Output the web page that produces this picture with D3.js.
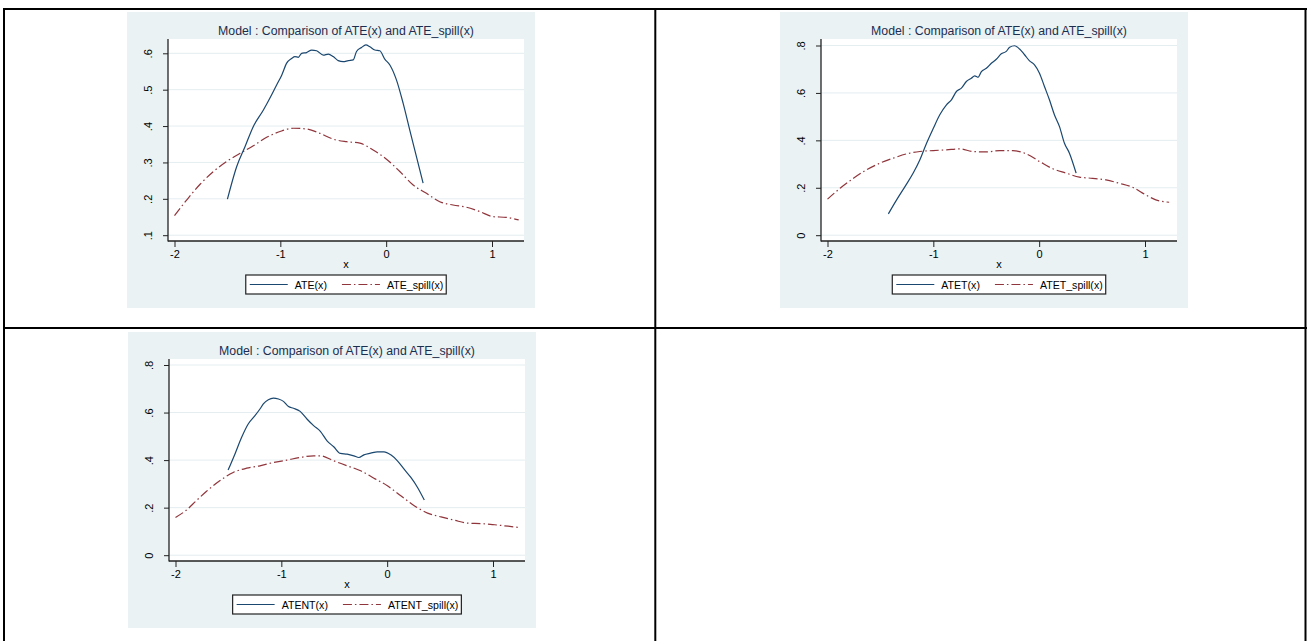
<!DOCTYPE html>
<html>
<head>
<meta charset="utf-8">
<title>Model : Comparison of ATE(x) and ATE_spill(x)</title>
<script src="https://cdnjs.cloudflare.com/ajax/libs/d3/7.8.5/d3.min.js"></script>
<style>
  body { margin: 0; background: #fff; }
  svg text { font-family: "Liberation Sans", Arial, sans-serif; }
</style>
</head>
<body>
<svg id="page" width="1307" height="641"></svg>
<script>
// ---- data ----
var titleText = "Model : Comparison of ATE(x) and ATE_spill(x)";
var xTicks = [-2, -1, 0, 1];
var xTickLabels = ["-2", "-1", "0", "1"];
var yTicksA = [0.1, 0.2, 0.3, 0.4, 0.5, 0.6];
var yTickLabelsA = [".1", ".2", ".3", ".4", ".5", ".6"];
var yTicksB = [0, 0.2, 0.4, 0.6, 0.8];
var yTickLabelsB = ["0", ".2", ".4", ".6", ".8"];

// panel 1
var ateX = [-1.50, -1.412, -1.333, -1.255, -1.160, -1.082, -1.035, -0.987, -0.940, -0.893, -0.862, -0.830, -0.799, -0.752, -0.704, -0.657, -0.594, -0.547, -0.500, -0.453, -0.406, -0.358, -0.311, -0.280, -0.233, -0.192, -0.154, -0.107, -0.060, -0.013, 0.035, 0.097, 0.160, 0.223, 0.286, 0.349];
var ateY = [0.199, 0.289, 0.344, 0.399, 0.444, 0.486, 0.513, 0.540, 0.573, 0.586, 0.591, 0.589, 0.600, 0.602, 0.609, 0.607, 0.595, 0.598, 0.591, 0.580, 0.577, 0.580, 0.582, 0.605, 0.616, 0.623, 0.618, 0.609, 0.607, 0.584, 0.568, 0.527, 0.463, 0.389, 0.316, 0.243];
var ateSpillX = [-2.0, -1.884, -1.758, -1.632, -1.506, -1.380, -1.255, -1.129, -1.003, -0.877, -0.752, -0.626, -0.500, -0.374, -0.248, -0.123, 0.003, 0.129, 0.255, 0.381, 0.506, 0.632, 0.758, 0.884, 1.009, 1.135, 1.252];
var ateSpillY = [0.154, 0.197, 0.240, 0.275, 0.303, 0.325, 0.346, 0.369, 0.385, 0.394, 0.392, 0.380, 0.364, 0.357, 0.353, 0.334, 0.309, 0.275, 0.238, 0.215, 0.192, 0.183, 0.177, 0.165, 0.151, 0.149, 0.142];

// panel 2
var atetX = [-1.425, -1.347, -1.268, -1.190, -1.127, -1.064, -1.000, -0.939, -0.876, -0.829, -0.782, -0.735, -0.688, -0.641, -0.609, -0.578, -0.546, -0.499, -0.452, -0.405, -0.358, -0.311, -0.279, -0.232, -0.185, -0.138, -0.091, -0.044, 0.003, 0.050, 0.097, 0.144, 0.192, 0.239, 0.286, 0.349];
var atetY = [0.090, 0.149, 0.205, 0.262, 0.318, 0.388, 0.451, 0.508, 0.550, 0.571, 0.606, 0.620, 0.648, 0.662, 0.672, 0.666, 0.690, 0.704, 0.725, 0.742, 0.765, 0.775, 0.793, 0.799, 0.785, 0.761, 0.735, 0.718, 0.683, 0.627, 0.571, 0.508, 0.458, 0.388, 0.346, 0.262];
var atetSpillX = [-2.0, -1.881, -1.755, -1.630, -1.504, -1.378, -1.253, -1.127, -1.002, -0.876, -0.750, -0.625, -0.499, -0.374, -0.248, -0.122, 0.003, 0.129, 0.254, 0.380, 0.505, 0.631, 0.757, 0.882, 1.008, 1.102, 1.228];
var atetSpillY = [0.152, 0.198, 0.240, 0.276, 0.304, 0.325, 0.343, 0.353, 0.357, 0.360, 0.364, 0.353, 0.351, 0.357, 0.357, 0.343, 0.311, 0.280, 0.262, 0.245, 0.240, 0.233, 0.219, 0.202, 0.170, 0.149, 0.139];

// panel 3
var atentX = [-1.503, -1.439, -1.376, -1.313, -1.249, -1.202, -1.170, -1.123, -1.075, -1.027, -0.980, -0.932, -0.885, -0.822, -0.758, -0.695, -0.631, -0.568, -0.505, -0.441, -0.378, -0.315, -0.267, -0.220, -0.156, -0.093, -0.030, 0.034, 0.097, 0.160, 0.224, 0.287, 0.351];
var atentY = [0.358, 0.425, 0.495, 0.552, 0.587, 0.615, 0.636, 0.654, 0.661, 0.657, 0.647, 0.625, 0.618, 0.605, 0.573, 0.545, 0.521, 0.481, 0.456, 0.428, 0.425, 0.418, 0.411, 0.422, 0.429, 0.435, 0.435, 0.422, 0.397, 0.362, 0.327, 0.285, 0.232];
var atentSpillX = [-2.0, -1.899, -1.804, -1.709, -1.582, -1.455, -1.328, -1.202, -1.075, -0.948, -0.822, -0.695, -0.631, -0.505, -0.378, -0.251, -0.125, 0.002, 0.129, 0.256, 0.382, 0.509, 0.636, 0.762, 0.889, 1.016, 1.142, 1.237];
var atentSpillY = [0.159, 0.189, 0.229, 0.268, 0.313, 0.348, 0.366, 0.376, 0.390, 0.400, 0.411, 0.418, 0.418, 0.397, 0.376, 0.355, 0.324, 0.292, 0.250, 0.208, 0.177, 0.161, 0.147, 0.135, 0.133, 0.128, 0.122, 0.117];

var navy = "#1a476f", maroon = "#90353b";
var svg = d3.select("#page");

// table borders (cells of the page holding the graphs)
var border = svg.append("g").attr("stroke", "#000").attr("stroke-width", 2);
border.append("line").attr("x1", 3).attr("x2", 1307).attr("y1", 9).attr("y2", 9);
border.append("line").attr("x1", 3).attr("x2", 1307).attr("y1", 328).attr("y2", 328);
border.append("line").attr("x1", 4).attr("x2", 4).attr("y1", 8).attr("y2", 641);
border.append("line").attr("x1", 655.3).attr("x2", 655.3).attr("y1", 8).attr("y2", 641);
border.append("line").attr("x1", 1305.5).attr("x2", 1305.5).attr("y1", 8).attr("y2", 641);

function zip(xs, ys) { return xs.map(function(v, i) { return [v, ys[i]]; }); }

function drawPanel(o) {
  var g = svg.append("g").attr("transform", "translate(" + o.left + "," + o.top + ")");
  var plotL = 41, plotR = 397, plotT = 27, plotB = 229;

  g.append("rect").attr("width", 408).attr("height", 296).attr("fill", "#eaf2f3");
  g.append("rect").attr("x", plotL).attr("y", plotT).attr("width", plotR - plotL).attr("height", plotB - plotT).attr("fill", "#fff");

  var x = d3.scaleLinear().domain([-2, 1]).range([47.5, 365]);
  var y = d3.scaleLinear().domain(o.yDomain).range([223.2, o.yTop]);

  // gridlines
  g.selectAll(".grid").data(o.yTicks).enter().append("line")
    .attr("x1", plotL).attr("x2", plotR)
    .attr("y1", function(d) { return y(d); }).attr("y2", function(d) { return y(d); })
    .attr("stroke", "#e4edf0").attr("stroke-width", 1);

  g.append("text").attr("x", 219).attr("y", 23).attr("text-anchor", "middle")
    .attr("font-size", "12.3px").attr("fill", "#1c2e50").text(titleText);

  // axes
  var xAxis = d3.axisBottom(x).tickValues(xTicks).tickSize(6).tickSizeOuter(0).tickPadding(3)
    .tickFormat(function(d, i) { return xTickLabels[i]; });
  var gx = g.append("g").attr("transform", "translate(0," + plotB + ")").call(xAxis);
  gx.select(".domain").remove();
  gx.selectAll("line").attr("stroke", "#222");
  gx.selectAll("text").attr("font-size", "11px").attr("fill", "#000").style("font-family", null);

  var yAxis = d3.axisLeft(y).tickValues(o.yTicks).tickSize(5).tickSizeOuter(0)
    .tickFormat(function(d, i) { return o.yLabels[i]; });
  var gy = g.append("g").attr("transform", "translate(" + plotL + ",0)").call(yAxis);
  gy.select(".domain").remove();
  gy.selectAll("line").attr("stroke", "#222");
  gy.selectAll("text").attr("x", null).attr("dy", "0.35em")
    .attr("text-anchor", "middle").attr("transform", "translate(-20,0) rotate(-90)")
    .attr("font-size", "11px").attr("fill", "#000");

  g.append("line").attr("x1", plotL).attr("x2", plotL).attr("y1", plotT).attr("y2", plotB + 0.6)
    .attr("stroke", "#222").attr("stroke-width", 1.3);
  g.append("line").attr("x1", plotL).attr("x2", plotR).attr("y1", plotB).attr("y2", plotB)
    .attr("stroke", "#222").attr("stroke-width", 1.3);

  g.append("text").attr("x", 219).attr("y", 256).attr("text-anchor", "middle")
    .attr("font-size", "11px").attr("fill", "#000").text("x");

  // curves
  var line = d3.line().x(function(d) { return x(d[0]); }).y(function(d) { return y(d[1]); })
    .curve(d3.curveMonotoneX);
  g.append("path").datum(zip(o.spillX, o.spillY)).attr("d", line).attr("fill", "none")
    .attr("stroke", maroon).attr("stroke-width", 1.2).attr("stroke-dasharray", "9,3,1.5,3");
  g.append("path").datum(zip(o.mainX, o.mainY)).attr("d", line).attr("fill", "none")
    .attr("stroke", navy).attr("stroke-width", 1.2);

  // legend
  var lg = g.append("g");
  var box = lg.append("rect").attr("y", 263).attr("height", 19).attr("fill", "#fff")
    .attr("stroke", "#222").attr("stroke-width", 1.2);
  var t1 = lg.append("text").attr("y", 277).attr("font-size", "10.6px").text(o.names[0]);
  var t2 = lg.append("text").attr("y", 277).attr("font-size", "10.6px").text(o.names[1]);
  var w1 = t1.node().getComputedTextLength(), w2 = t2.node().getComputedTextLength();
  var total = 4 + 38 + 7 + w1 + 15 + 38 + 7 + w2 + 3;
  var x0 = 219 - total / 2;
  box.attr("x", x0).attr("width", total);
  lg.append("line").attr("x1", x0 + 4).attr("x2", x0 + 42).attr("y1", 272.5).attr("y2", 272.5)
    .attr("stroke", navy).attr("stroke-width", 1.2);
  t1.attr("x", x0 + 49);
  var x2 = x0 + 49 + w1 + 15;
  lg.append("line").attr("x1", x2).attr("x2", x2 + 38).attr("y1", 272.5).attr("y2", 272.5)
    .attr("stroke", maroon).attr("stroke-width", 1.2).attr("stroke-dasharray", "9,3,1.5,3");
  t2.attr("x", x2 + 45);
}

drawPanel({ left: 127, top: 12, yDomain: [0.1, 0.6], yTop: 41.3, yTicks: yTicksA, yLabels: yTickLabelsA,
  mainX: ateX, mainY: ateY, spillX: ateSpillX, spillY: ateSpillY, names: ["ATE(x)", "ATE_spill(x)"] });
drawPanel({ left: 780, top: 12, yDomain: [0, 0.8], yTop: 33.5, yTicks: yTicksB, yLabels: yTickLabelsB,
  mainX: atetX, mainY: atetY, spillX: atetSpillX, spillY: atetSpillY, names: ["ATET(x)", "ATET_spill(x)"] });
drawPanel({ left: 128, top: 332, yDomain: [0, 0.8], yTop: 33, yTicks: yTicksB, yLabels: yTickLabelsB,
  mainX: atentX, mainY: atentY, spillX: atentSpillX, spillY: atentSpillY, names: ["ATENT(x)", "ATENT_spill(x)"] });
</script>
</body>
</html>
